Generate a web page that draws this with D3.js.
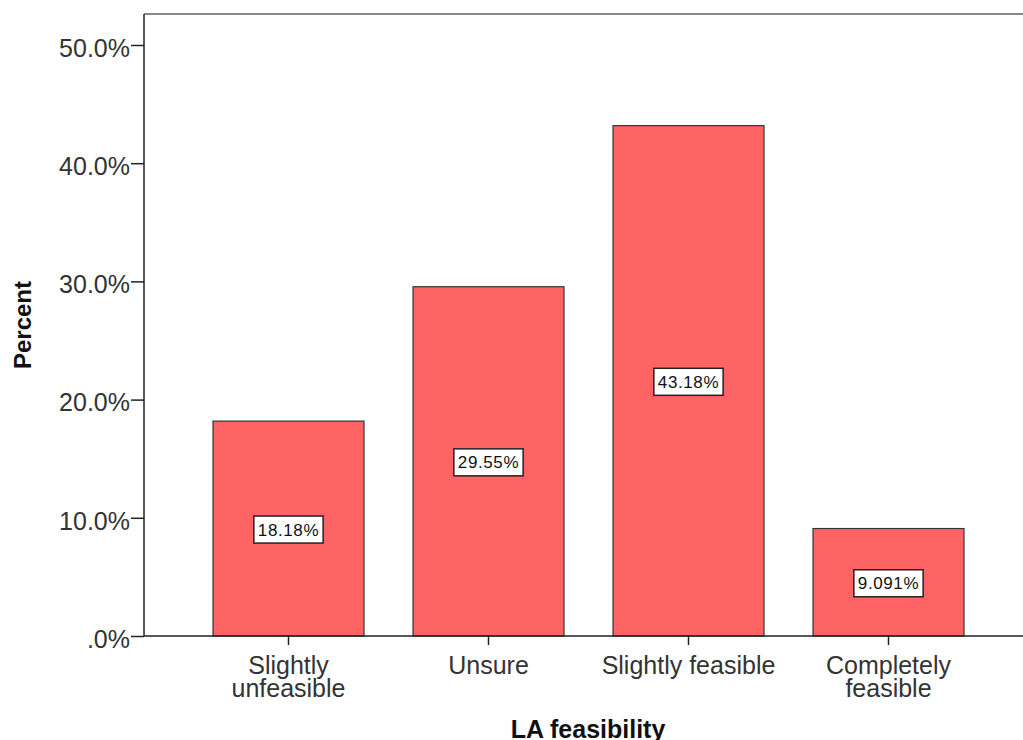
<!DOCTYPE html>
<html lang="en">
  <head>
    <meta charset="utf-8">
    <title>LA feasibility</title>
    <script src="https://d3js.org/d3.v7.min.js"></script>
    <style>
      body { margin: 0; background: #fff; }
      svg text { font-family: "Liberation Sans", Arial, sans-serif; }
    </style>
  </head>
  <body>
    <div id="chart"></div>
    <script>
      // data
      var categories = ["Slightly unfeasible", "Unsure", "Slightly feasible", "Completely feasible"];
      var categoryLines = [["Slightly", "unfeasible"], ["Unsure"], ["Slightly feasible"], ["Completely", "feasible"]];
      var percents = [18.18, 29.55, 43.18, 9.091];
      var percentLabels = ["18.18%", "29.55%", "43.18%", "9.091%"];
      var yTicks = [0, 10, 20, 30, 40, 50];
      var yTickLabels = [".0%", "10.0%", "20.0%", "30.0%", "40.0%", "50.0%"];

      var w = 1023, h = 740;
      var plotLeft = 144, plotRight = 1023, plotTop = 14, plotBottom = 636;

      var svg = d3.select("#chart").append("svg")
        .attr("width", w)
        .attr("height", h);

      var xScale = d3.scaleBand()
        .domain(categories)
        .range([188.5, 988.5])
        .paddingInner(0.245)
        .paddingOuter(0.1225);

      // 50% sits at y=45
      var yScale = d3.scaleLinear()
        .domain([0, 50])
        .range([plotBottom, 45]);

      // top frame line
      svg.append("line")
        .attr("x1", plotLeft).attr("x2", plotRight)
        .attr("y1", plotTop).attr("y2", plotTop)
        .attr("stroke", "#888")
        .attr("stroke-width", 2);

      // bars
      svg.selectAll("rect.bar")
        .data(percents)
        .enter().append("rect")
          .attr("class", "bar")
          .attr("x", function(d, i) { return xScale(categories[i]); })
          .attr("y", function(d) { return yScale(d); })
          .attr("width", xScale.bandwidth())
          .attr("height", function(d) { return plotBottom - yScale(d); })
          .attr("fill", "#ff6464")
          .attr("stroke", "#333")
          .attr("stroke-width", 1.2);

      // y axis
      var yAxis = d3.axisLeft(yScale)
        .tickValues(yTicks)
        .tickSize(13)
        .tickPadding(1)
        .tickFormat(function(d, i) { return yTickLabels[i]; });

      var gy = svg.append("g")
        .attr("transform", "translate(" + plotLeft + ",0)")
        .call(yAxis);
      gy.select(".domain").attr("d", "M0," + plotTop + "V" + plotBottom).attr("stroke", "#222").attr("stroke-width", 1.5);
      gy.selectAll(".tick line").attr("stroke", "#222").attr("stroke-width", 1.5);
      gy.selectAll(".tick text")
        .attr("font-size", 25)
        .attr("fill", "#333")
        .attr("dy", "0.45em")
        .style("font-family", "Liberation Sans, Arial, sans-serif");

      // x axis
      var xAxis = d3.axisBottom(xScale).tickSize(9).tickFormat("");
      var gx = svg.append("g")
        .attr("transform", "translate(0," + plotBottom + ")")
        .call(xAxis);
      gx.select(".domain").attr("d", "M" + plotLeft + ",0H" + plotRight).attr("stroke", "#222").attr("stroke-width", 1.5);
      gx.selectAll(".tick line").attr("stroke", "#222").attr("stroke-width", 1.5);

      categories.forEach(function(c, i) {
        var t = svg.append("text")
          .attr("x", xScale(c) + xScale.bandwidth() / 2)
          .attr("y", 674)
          .attr("text-anchor", "middle")
          .attr("font-size", 25)
          .attr("fill", "#333");
        categoryLines[i].forEach(function(line, j) {
          t.append("tspan")
            .attr("x", xScale(c) + xScale.bandwidth() / 2)
            .attr("dy", j === 0 ? 0 : 23)
            .text(line);
        });
      });

      // value labels in boxes, centred half way up each bar
      percents.forEach(function(d, i) {
        var cx = xScale(categories[i]) + xScale.bandwidth() / 2;
        var cy = yScale(d / 2) + 1;
        var g = svg.append("g");
        var txt = g.append("text")
          .attr("x", cx)
          .attr("y", cy + 6)
          .attr("text-anchor", "middle")
          .attr("font-size", 17)
          .attr("letter-spacing", 0.6)
          .attr("fill", "#111")
          .text(percentLabels[i]);
        var bb = txt.node().getBBox();
        g.insert("rect", "text")
          .attr("x", cx - (bb.width + 8) / 2)
          .attr("y", cy - 13.5)
          .attr("width", bb.width + 8)
          .attr("height", 27)
          .attr("fill", "#fff")
          .attr("stroke", "#222")
          .attr("stroke-width", 1.5);
      });

      // axis titles
      svg.append("text")
        .attr("x", 588)
        .attr("y", 738)
        .attr("text-anchor", "middle")
        .attr("font-size", 25)
        .attr("font-weight", "bold")
        .attr("fill", "#111")
        .text("LA feasibility");

      svg.append("text")
        .attr("transform", "translate(31,325) rotate(-90)")
        .attr("text-anchor", "middle")
        .attr("font-size", 24)
        .attr("font-weight", "bold")
        .attr("fill", "#111")
        .text("Percent");
    </script>
  </body>
</html>
